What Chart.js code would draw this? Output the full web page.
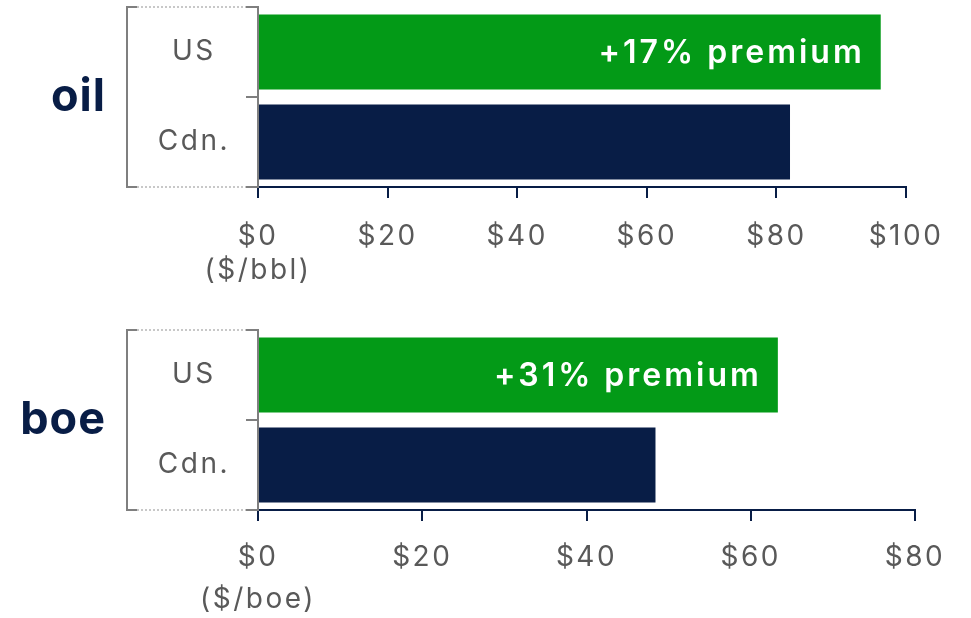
<!DOCTYPE html>
<html>
<head>
<meta charset="utf-8">
<script src="https://cdn.jsdelivr.net/npm/chart.js@4.4.0/dist/chart.umd.min.js"></script>
<style>
  html, body { margin: 0; padding: 0; background: #fff; }
  body { width: 971px; height: 618px; position: relative; overflow: hidden; }
  .box { position: absolute; left: 0; width: 971px; height: 300px; }
</style>
</head>
<body>
<div class="box" style="top:0"><canvas id="chart1"></canvas></div>
<div class="box" style="top:318px"><canvas id="chart2"></canvas></div>
<script>
// data
const categories = ['US', 'Cdn.'];
const oilValues = [96.1, 82.1];
const boeValues = [63.3, 48.4];
const oilMax = 100;
const boeMax = 80;
const tickStep = 20;
const oilUnit = '($/bbl)';
const boeUnit = '($/boe)';
const premiumLabels = ['+17% premium', '+31% premium'];
const groupLabels = ['oil', 'boe'];

const GREEN = '#039A17';
const NAVY = '#081D46';
const GREY = '#7f7f7f';
const TEXT_GREY = '#595959';
const FONT = 'Inter';

// wider lettering, closer to the original typeface
const spacingPlugin = {
    id: 'spacing',
    beforeUpdate(chart) { chart.ctx.letterSpacing = '2.5px'; },
    beforeDraw(chart) { chart.ctx.letterSpacing = '2.5px'; }
};

// bracket, group label and premium text
const decorPlugin = {
    id: 'decor',
    afterDatasetsDraw(chart, args, opts) {
        const ctx = chart.ctx;
        const a = chart.chartArea;
        const tickLeft = a.left - 12;
        const bx = 127;
        ctx.save();
        // dotted lines top and bottom
        ctx.strokeStyle = '#c8c8c8';
        ctx.lineWidth = 2;
        ctx.setLineDash([2, 2]);
        [a.top, a.bottom].forEach(y => {
            ctx.beginPath();
            ctx.moveTo(bx + 10, y);
            ctx.lineTo(tickLeft, y);
            ctx.stroke();
        });
        // bracket
        ctx.setLineDash([]);
        ctx.strokeStyle = GREY;
        ctx.beginPath();
        ctx.moveTo(bx + 10, a.top);
        ctx.lineTo(bx, a.top);
        ctx.lineTo(bx, a.bottom);
        ctx.lineTo(bx + 10, a.bottom);
        ctx.stroke();
        // group label
        ctx.fillStyle = NAVY;
        ctx.font = '700 45px ' + FONT;
        ctx.letterSpacing = '1px';
        ctx.textAlign = 'right';
        ctx.textBaseline = 'middle';
        ctx.fillText(opts.group, 106, (a.top + a.bottom) / 2);
        // premium label inside the US bar
        const bar = chart.getDatasetMeta(0).data[0];
        ctx.fillStyle = '#ffffff';
        ctx.font = '600 32px ' + FONT;
        ctx.letterSpacing = '3px';
        ctx.fillText(opts.premium, bar.x - 16, bar.y + 1);
        ctx.restore();
    }
};

function makeChart(id, values, max, unit, group, premium, topPad, axisHeight, tickPad, lineHeight, rightPad) {
    return new Chart(document.getElementById(id), {
        type: 'bar',
        data: {
            labels: categories,
            datasets: [{
                data: values,
                backgroundColor: [GREEN, NAVY],
                barPercentage: 1,
                categoryPercentage: 75 / 90
            }]
        },
        options: {
            indexAxis: 'y',
            responsive: true,
            maintainAspectRatio: false,
            animation: false,
            layout: { padding: { top: topPad, right: rightPad, left: 0, bottom: 0 } },
            plugins: {
                legend: { display: false },
                tooltip: { enabled: false },
                decor: { group: group, premium: premium }
            },
            scales: {
                x: {
                    min: 0,
                    max: max,
                    border: { color: NAVY, width: 2 },
                    grid: { drawOnChartArea: false, drawTicks: true, tickLength: 11, color: NAVY, lineWidth: 2 },
                    ticks: {
                        stepSize: tickStep,
                        padding: tickPad,
                        color: TEXT_GREY,
                        font: { family: FONT, size: 28, lineHeight: lineHeight },
                        callback: v => v === 0 ? ['$0', unit] : '$' + v
                    },
                    afterFit: s => {
                        s.height = axisHeight;
                        s.paddingLeft = 0;
                        s.paddingRight = 0;
                    }
                },
                y: {
                    border: { color: GREY, width: 2 },
                    grid: { offset: true, drawOnChartArea: false, drawTicks: true, tickLength: 12, color: GREY, lineWidth: 2 },
                    ticks: {
                        crossAlign: 'center',
                        padding: 16,
                        color: TEXT_GREY,
                        font: { family: FONT, size: 28 }
                    },
                    afterFit: s => {
                        s.width = 258;
                        s.paddingTop = 0;
                        s.paddingBottom = 0;
                    }
                }
            }
        },
        plugins: [spacingPlugin, decorPlugin]
    });
}

makeChart('chart1', oilValues, oilMax, oilUnit, groupLabels[0], premiumLabels[0], 7, 113, 22, 1.2, 65);
makeChart('chart2', boeValues, boeMax, boeUnit, groupLabels[1], premiumLabels[1], 12, 108, 16, 1.5, 56);
</script>
</body>
</html>
